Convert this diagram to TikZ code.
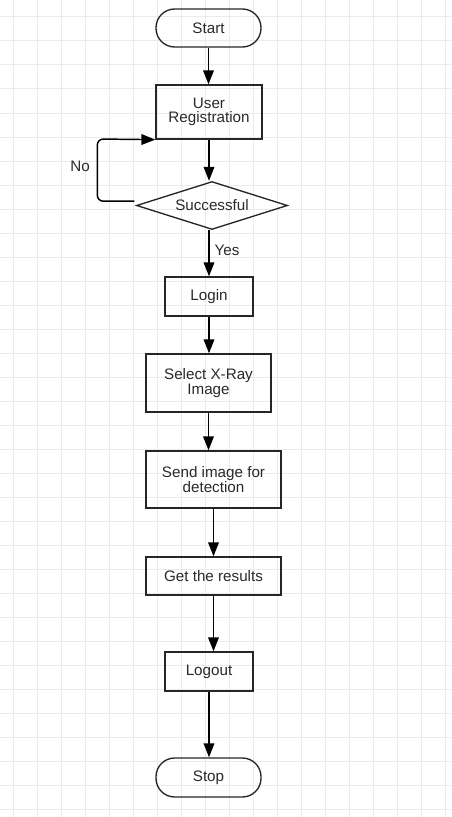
\documentclass[tikz,border=0pt]{standalone}
\usepackage{fontspec}
\setmainfont{Liberation Sans}
\usetikzlibrary{shapes.geometric,arrows.meta,calc}
\definecolor{gridc}{HTML}{EBEBEB}
\definecolor{txt}{HTML}{2A2A2A}
\definecolor{bord}{HTML}{262626}
\begin{document}
\begin{tikzpicture}[x=0.75pt,y=-0.75pt,
  every node/.style={font=\fontsize{11.4}{11}\selectfont, text=txt},
  boxs/.style={draw=bord, line width=1pt, rectangle, inner sep=0pt, align=center},
  term/.style={boxs, rounded corners=14pt},
  decs/.style={draw=bord, line width=1pt, diamond, inner sep=0pt, aspect=3.15, minimum width=113.25pt, minimum height=36pt},
  arr/.style={draw=black, line width=1.1pt, -{Triangle[length=10.5pt,width=8pt]}},
  lbl/.style={inner sep=0pt}
]
\useasboundingbox (0,0) rectangle (451,817);
\fill[white] (0,0) rectangle (451,817);
% grid
\foreach \i in {0,...,18} { \draw[gridc, line width=0.75pt] (13.3+24*\i,0) -- (13.3+24*\i,817); }
\foreach \j in {0,...,33} { \draw[gridc, line width=0.75pt] (0,17+24*\j) -- (451,17+24*\j); }

% nodes
\node[term, minimum width=78.75pt, minimum height=28.5pt] (start) at (208.5,28) {Start};
\node[boxs, minimum width=79.5pt, minimum height=40.5pt] (reg) at (209,112) {User\\Registration};
\node[decs] (dec) at (212,205.5) {Successful};
\node[boxs, minimum width=66pt, minimum height=29.25pt] (login) at (209,296.5) {Login};
\node[boxs, minimum width=93.75pt, minimum height=43.5pt] (select) at (208.5,383) {Select X-Ray\\Image};
\node[boxs, minimum width=101.25pt, minimum height=42.75pt] (send) at (213.5,479.5) {Send image for\\detection};
\node[boxs, minimum width=101.25pt, minimum height=28.5pt] (get) at (213.5,576) {Get the results};
\node[boxs, minimum width=66pt, minimum height=29.25pt] (logout) at (209,671.5) {Logout};
\node[term, minimum width=78.75pt, minimum height=29.25pt] (stop) at (208.5,777.5) {Stop};

\node[lbl] (no) at (80,166) {No};
\node[lbl] (yes) at (227,250) {Yes};

% connectors
\draw[arr] (start.south) -- (start.south |- reg.north);
\draw[arr] (reg.south) -- (reg.south |- dec.north);
\draw[arr] (dec.south -| login.north) -- (login.north);
\draw[arr] (login.south) -- (login.south |- select.north);
\draw[arr] (select.south) -- (select.south |- send.north);
\draw[arr] (send.south) -- (send.south |- get.north);
\draw[arr] (get.south) -- (get.south |- logout.north);
\draw[arr] (logout.south) -- (logout.south |- stop.north);

\coordinate (nostart) at ($(dec.west)+(-1.5,-4.3)$);
\coordinate (noback) at (97.3,139);
\draw[arr, rounded corners=4.5pt] (nostart) -| (noback) -- (reg.south west);
\end{tikzpicture}
\end{document}
